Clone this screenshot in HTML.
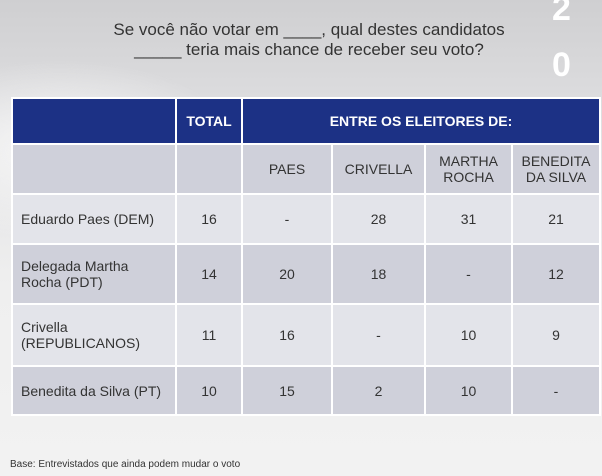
<!DOCTYPE html>
<html><head><meta charset="utf-8">
<style>
body{margin:0;width:602px;height:476px;overflow:hidden;font-family:"Liberation Sans",sans-serif;
background:radial-gradient(ellipse 180px 90px at 60px 150px,#f7f7f7,rgba(247,247,247,0) 100%),linear-gradient(180deg,#cfcfd1 0%,#e2e2e4 30%,#efefef 60%,#f2f2f2 100%);position:relative}
.title{position:absolute;left:0;width:618px;top:20px;text-align:center;font-size:17px;line-height:20px;color:#333}
.big{position:absolute;left:552px;color:#fff;font-weight:bold;font-size:34px}
table{position:absolute;left:11px;top:97px;border-collapse:collapse;table-layout:fixed}
td{border:2px solid #fff;text-align:center;font-size:14px;color:#333;padding:0}
.h td{background:#1c3185;color:#fff;font-weight:bold;height:44px}
.d{background:#cfd0da}.l{background:#e3e4ea}
td.n{text-align:left;padding-left:8px}
.foot{position:absolute;left:10px;top:459px;font-size:10px;color:#333}
</style></head><body>
<div class="title">Se você não votar em ____, qual destes candidatos<br>_____ teria mais chance de receber seu voto?</div>
<div class="big" style="top:-10px">2</div>
<div class="big" style="top:46px">0</div>
<table>
<colgroup><col style="width:164px"><col style="width:66px"><col style="width:90px"><col style="width:93px"><col style="width:87px"><col style="width:88px"></colgroup>
<tr class="h"><td></td><td>TOTAL</td><td colspan="4">ENTRE OS ELEITORES DE:</td></tr>
<tr class="d" style="height:50px"><td></td><td></td><td>PAES</td><td>CRIVELLA</td><td>MARTHA<br>ROCHA</td><td>BENEDITA<br>DA SILVA</td></tr>
<tr class="l" style="height:50px"><td class="n">Eduardo Paes (DEM)</td><td>16</td><td>-</td><td>28</td><td>31</td><td>21</td></tr>
<tr class="d" style="height:60px"><td class="n">Delegada Martha<br>Rocha (PDT)</td><td>14</td><td>20</td><td>18</td><td>-</td><td>12</td></tr>
<tr class="l" style="height:62px"><td class="n">Crivella<br>(REPUBLICANOS)</td><td>11</td><td>16</td><td>-</td><td>10</td><td>9</td></tr>
<tr class="d" style="height:49px"><td class="n">Benedita da Silva (PT)</td><td>10</td><td>15</td><td>2</td><td>10</td><td>-</td></tr>
</table>
<div class="foot">Base: Entrevistados que ainda podem mudar o voto</div>
</body></html>
